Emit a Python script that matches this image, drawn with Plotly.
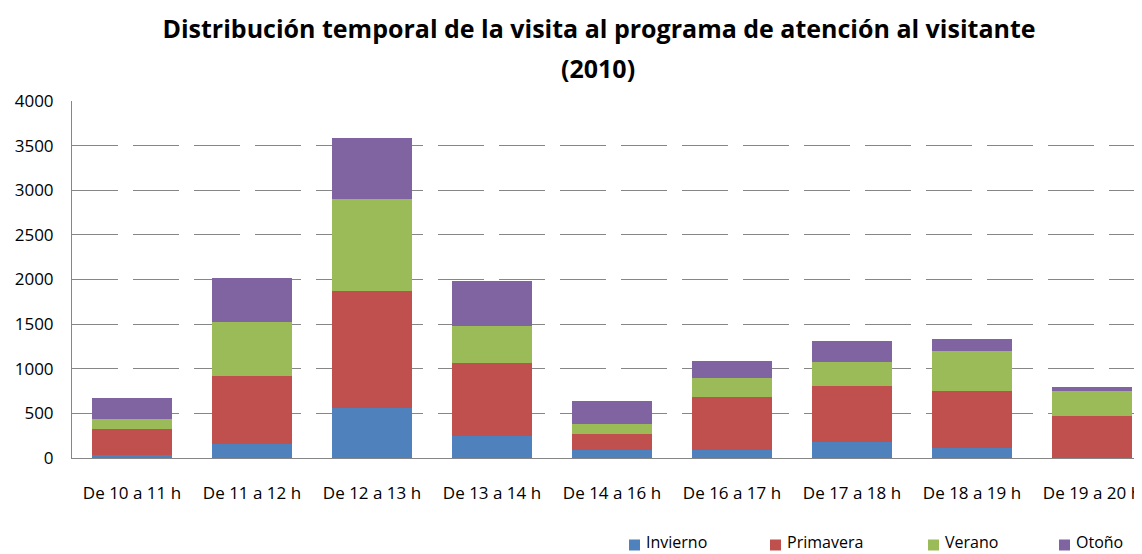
import plotly.graph_objects as go

categories = ["De 10 a 11 h", "De 11 a 12 h", "De 12 a 13 h", "De 13 a 14 h", "De 14 a 16 h",
              "De 16 a 17 h", "De 17 a 18 h", "De 18 a 19 h", "De 19 a 20 h"]
invierno = [30, 157, 557, 243, 93, 93, 179, 112, 0]
primavera = [291, 759, 1312, 819, 172, 587, 625, 636, 467]
verano = [113, 605, 1032, 415, 113, 213, 269, 448, 281]
otono = [235, 494, 684, 504, 257, 191, 235, 135, 44]
y_ticks = [0, 500, 1000, 1500, 2000, 2500, 3000, 3500, 4000]
series_names = ["Invierno", "Primavera", "Verano", "Otoño"]
series_values = [invierno, primavera, verano, otono]
series_colors = ["#4F81BD", "#C0504D", "#9BBB59", "#8064A2"]

OFF = 8  # page body margin
W, H = 1142 - OFF, 554 - OFF
ML, MR, MT = 72 - OFF, 0, 101 - OFF
PB = 458 - OFF
MB = H - PB
PW, PH = W - ML - MR, PB - MT


def px_x(wx):
    return (wx - OFF - ML) / PW


def px_y(wy):
    return (PB - (wy - OFF)) / PH


fig = go.Figure()
for name, vals, col in zip(series_names, series_values, series_colors):
    fig.add_trace(go.Bar(x=categories, y=vals, name=name, showlegend=False,
                         marker=dict(color=col, line=dict(width=0))))

font_family = "Open Sans, Liberation Sans, sans-serif"
fig.update_layout(
    width=W, height=H,
    barmode="stack", bargap=0.34,
    plot_bgcolor="white", paper_bgcolor="white",
    margin=dict(l=ML, r=MR, t=MT, b=MB, autoexpand=False),
    font=dict(family=font_family, size=14, color="#000000"),
    title=dict(text="<b>Distribución temporal de la visita al programa de atención al visitante</b>",
               x=(599 - OFF) / W, xanchor="center", xref="container",
               y=1 - (29 - OFF) / H, yanchor="middle", yref="container",
               font=dict(size=25, family=font_family, color="#000000")),
    showlegend=False,
)
fig.add_annotation(text="<b>(2010)</b>", xref="paper", yref="paper", x=px_x(598), y=px_y(68),
                   xanchor="center", yanchor="middle", showarrow=False,
                   font=dict(size=25, family=font_family, color="#000000"))

# manual legend (window pixel positions of the swatches, as in the reference)
legend_px = [629, 770, 928, 1059]
sq = 11
sq_y = 545
for name, col, lx in zip(series_names, series_colors, legend_px):
    fig.add_shape(type="rect", xref="paper", yref="paper",
                  x0=px_x(lx), x1=px_x(lx + sq),
                  y0=px_y(sq_y + sq / 2), y1=px_y(sq_y - sq / 2),
                  fillcolor=col, line=dict(width=0))
    fig.add_annotation(text=name, xref="paper", yref="paper", x=px_x(lx + 16),
                       y=px_y(542), xanchor="left", yanchor="middle", showarrow=False,
                       borderpad=0, font=dict(size=16, family=font_family, color="#000000"))

fig.update_xaxes(range=[-0.5, -0.5 + PW / 120], showline=True, linecolor="#868686", linewidth=1,
                 ticks="", ticklabelstandoff=20, tickfont=dict(size=17), showgrid=False)
fig.update_yaxes(range=[0, 4000], tickvals=y_ticks, showline=True, linecolor="#868686", linewidth=1,
                 showgrid=True, gridcolor="#868686", gridwidth=1, griddash="46px,15px",
                 ticks="", ticklabelstandoff=14, tickfont=dict(size=17), zeroline=False)

fig.write_html("out.html")
